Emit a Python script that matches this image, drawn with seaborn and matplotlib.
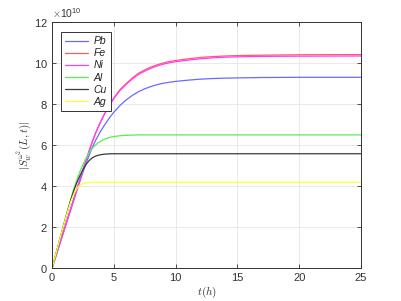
import matplotlib
matplotlib.use("Agg")
import matplotlib.pyplot as plt
import matplotlib.ticker as mticker
import numpy as np
import pandas as pd
import seaborn as sns

# time grid (hours) and |S| values in units of 1e10
t = [0, 0.25, 0.5, 0.75, 1, 1.25, 1.5, 1.75, 2, 2.25, 2.5, 2.75, 3, 3.25, 3.5, 3.75, 4, 4.25, 4.5, 4.75,
     5, 5.5, 6, 6.5, 7, 7.5, 8, 8.5, 9, 9.5, 10, 11, 12, 13, 14, 15, 17, 20, 25]
scale = 1e10

pb = [0, 0.47, 0.94, 1.41, 1.88, 2.35, 2.82, 3.29, 3.76, 4.22, 4.67, 5.1, 5.5, 5.88, 6.2, 6.48, 6.74, 6.98, 7.2, 7.41,
      7.6, 7.93, 8.2, 8.42, 8.6, 8.74, 8.85, 8.94, 9.01, 9.06, 9.1, 9.16, 9.21, 9.24, 9.26, 9.27, 9.29, 9.3, 9.3]
fe = [0, 0.48, 0.96, 1.44, 1.92, 2.4, 2.88, 3.36, 3.84, 4.32, 4.8, 5.27, 5.72, 6.15, 6.55, 6.9, 7.22, 7.52, 7.8, 8.05,
      8.3, 8.7, 9.0, 9.27, 9.5, 9.66, 9.8, 9.91, 10.0, 10.07, 10.12, 10.2, 10.27, 10.31, 10.34, 10.36, 10.38, 10.4, 10.41]
ni = [0, 0.48, 0.96, 1.44, 1.92, 2.4, 2.88, 3.36, 3.84, 4.32, 4.8, 5.27, 5.72, 6.15, 6.55, 6.9, 7.22, 7.52, 7.8, 8.03,
      8.27, 8.66, 8.96, 9.22, 9.44, 9.6, 9.74, 9.85, 9.94, 10.01, 10.06, 10.14, 10.2, 10.25, 10.28, 10.3, 10.32, 10.33, 10.34]
al = [0, 0.56, 1.12, 1.68, 2.24, 2.8, 3.33, 3.85, 4.3, 4.7, 5.05, 5.36, 5.62, 5.83, 5.99, 6.11, 6.21, 6.28, 6.34, 6.38,
      6.41, 6.45, 6.47, 6.48, 6.49, 6.49, 6.49, 6.49, 6.49, 6.49, 6.49, 6.49, 6.49, 6.49, 6.49, 6.49, 6.49, 6.49, 6.49]
cu = [0, 0.56, 1.12, 1.68, 2.24, 2.78, 3.3, 3.76, 4.16, 4.5, 4.8, 5.05, 5.24, 5.37, 5.45, 5.5, 5.53, 5.55, 5.56, 5.57,
      5.57, 5.57, 5.57, 5.57, 5.57, 5.57, 5.57, 5.57, 5.57, 5.57, 5.57, 5.57, 5.57, 5.57, 5.57, 5.57, 5.57, 5.57, 5.57]
ag = [0, 0.56, 1.12, 1.68, 2.22, 2.75, 3.22, 3.6, 3.88, 4.04, 4.12, 4.16, 4.17, 4.18, 4.18, 4.18, 4.18, 4.18, 4.18, 4.18,
      4.18, 4.18, 4.18, 4.18, 4.18, 4.18, 4.18, 4.18, 4.18, 4.18, 4.18, 4.18, 4.18, 4.18, 4.18, 4.18, 4.18, 4.18, 4.18]

metals = ["Pb", "Fe", "Ni", "Al", "Cu", "Ag"]
colors = ["#6a6aff", "#ff5c5c", "#ff3cff", "#55ee55", "#3a3a3a", "#ffff33"]
series = [pb, fe, ni, al, cu, ag]

df = pd.concat(
    [pd.DataFrame({"t": t, "S": np.array(v) * scale, "metal": m}) for m, v in zip(metals, series)],
    ignore_index=True,
)

sns.set_style("whitegrid")
plt.rcParams["font.family"] = ["Liberation Sans", "DejaVu Sans"]
plt.rcParams["mathtext.fontset"] = "cm"

fig = plt.figure(figsize=(4.01, 3.01), dpi=100)
ax = fig.add_axes([0.130, 0.110, 0.770, 0.817])

sns.lineplot(data=df, x="t", y="S", hue="metal", palette=dict(zip(metals, colors)),
             estimator=None, sort=False, linewidth=0.9, ax=ax)

ax.set_xlim(0, 25)
ax.set_ylim(0, 12e10)
ax.set_xticks([0, 5, 10, 15, 20, 25])
ax.set_yticks(np.arange(0, 13, 2) * scale)
fmt = mticker.ScalarFormatter(useMathText=True)
fmt.set_powerlimits((10, 10))
ax.yaxis.set_major_formatter(fmt)
ax.yaxis.get_offset_text().set_fontsize(7.5)
ax.yaxis.get_offset_text().set_color("#333333")

ax.grid(True, color="#e6e6e6", linewidth=0.6)
for s in ax.spines.values():
    s.set_color("#333333")
    s.set_linewidth(0.7)
ax.tick_params(direction="in", length=3, width=0.6, labelsize=8, colors="#333333",
               top=True, right=True, bottom=True, left=True)
ax.tick_params(axis="x", pad=4)
ax.tick_params(axis="y", pad=3)

ax.set_xlabel("$t(h)$", fontsize=8, color="#333333", labelpad=1)
ax.set_ylabel(r"$|S_w^{\omega^2}(L,t)|$", fontsize=8, color="#333333", labelpad=0)

leg = ax.legend(loc="upper left", bbox_to_anchor=(0.012, 0.98), fontsize=7.5, frameon=True,
                fancybox=False, handlelength=2.2, handletextpad=0.5, borderpad=0.4,
                labelspacing=0.2)
leg.get_frame().set_edgecolor("#333333")
leg.get_frame().set_linewidth(0.7)
leg.get_frame().set_alpha(1)
for txt in leg.get_texts():
    txt.set_fontstyle("italic")
    txt.set_color("#222222")

fig.savefig("out.png", dpi=100)
